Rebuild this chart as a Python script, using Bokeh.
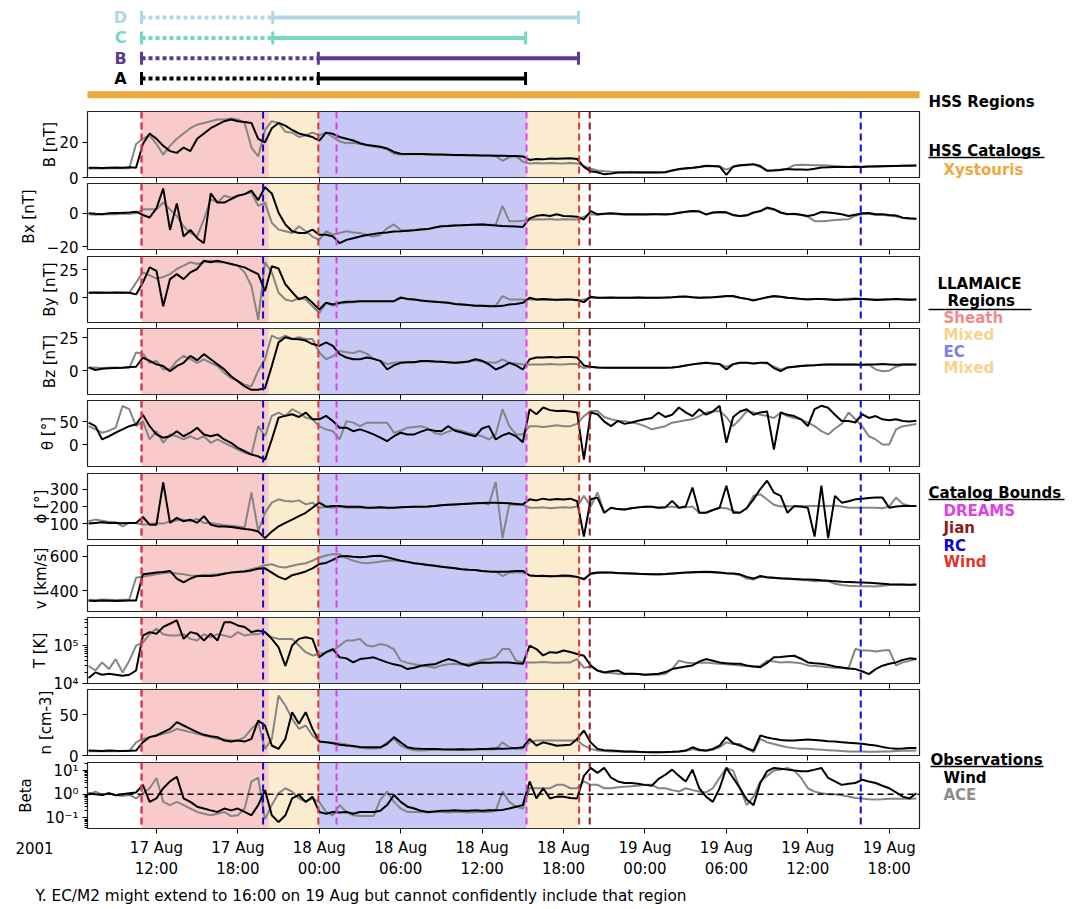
from datetime import datetime, timedelta
from bokeh.plotting import figure
from bokeh.layouts import column, row
from bokeh.models import Range1d, FixedTicker, Span, BoxAnnotation, ColumnDataSource, CustomJSTickFormatter
from bokeh.core.properties import value
from bokeh.embed import file_html
from bokeh.resources import INLINE

FONT = "DejaVu Sans"
EPOCH = datetime(1970, 1, 1)
DAY0 = datetime(2001, 8, 17)


def ms(h):
    return (DAY0 + timedelta(hours=h) - EPOCH).total_seconds() * 1000.0


# sample times: hours after 2001-08-17 00:00 (30 min cadence)
HOURS = [7.0 + 0.5 * i for i in range(123)]

B_WIND = [5.5, 5.6, 5.4, 5.6, 5.7, 5.5, 5.8, 5.6, 19, 25, 22, 18,
          15, 14, 17, 15, 22, 25, 28, 30, 32, 33, 32, 31.5,
          31, 22, 20, 28, 31, 29.5, 27, 25, 24, 23, 21, 25.5,
          24.8, 23, 22, 21, 19.5, 18.5, 18, 17.5, 16.5, 14.5, 13.5, 13.3,
          13.3, 13.4, 13.2, 13, 13, 12.9, 12.8, 12.8, 12.7, 12.6, 12.5, 12.5,
          12.4, 12.3, 12.2, 12.2, 12.0, 10.0, 10.5, 10.3, 10.8, 10.6, 10.8, 11,
          10.5, 6, 3.5, 3.0, 1.8, 2.2, 2.8, 2.9, 2.9, 2.9, 2.9, 2.9,
          2.9, 3.0, 4, 4.8, 5.2, 5.5, 6, 6.7, 6.5, 6.3, 1.5, 6.2,
          7, 7.3, 7.6, 6.5, 3.8, 4, 4.3, 4.8, 4.6, 4.5, 4.4, 5,
          5.7, 5.8, 6, 5.9, 6, 6.1, 6, 6.2, 6.3, 6.4, 6.5, 6.6,
          6.7, 6.7, 6.8]
B_ACE = [5.0, 5.2, 5.1, 5.3, 5.2, 5.2, 5.3, 19, 22, 24, 19, 13,
         18, 22, 25, 28, 30, 31, 32, 33, 33, 33.5, 33, 31,
         17, 12, 27, 32, 31, 26, 25.5, 23, 24, 25.5, 24, 25.5,
         23, 20.5, 19.5, 19.8, 19, 18.5, 17.5, 17, 16, 13.5, 13, 13.2,
         13.2, 13.3, 13.1, 13, 12.9, 12.8, 12.7, 12.7, 12.6, 12.5, 12.3, 12.4,
         12.2, 9.5, 11.5, 12, 9, 8, 8.2, 8, 8.3, 8.1, 8, 8.2,
         8, 6.5, 5, 4, 3.5, 3.2, 3, 3, 3.2, 3, 3, 3,
         3, 3.1, 4, 4.6, 5, 5.4, 6, 6.5, 6.4, 6.3, 4.5, 6,
         6.8, 7, 7.3, 6, 4, 4.2, 4.5, 5, 7, 7.2, 7.1, 7,
         7, 6.8, 6.5, 6.3, 6, 6.2, 6.1, 6.3, 6.4, 6.5, 6.4, 6.6,
         6.7, 6.8, 6.8]

BX_WIND = [0, -0.3, -0.5, 0, 0.2, 0.3, 0.5, 1, -1, -2.5, 3, 15,
           -10, 6, -14, -10, -15, -18, 12, 6.5, 6.5, 8.6, 10.6, 11.6,
           13.7, 8, 15.7, 12, 0.4, -6.7, -10.8, -11.8, -11.8, -9.8, -12.9, -12.9,
           -13.9, -18, -16, -15, -14, -13, -12.5, -11.8, -11.5, -11, -10.8, -10.5,
           -10.2, -9.8, -9.5, -8.5, -7.8, -7.6, -7.3, -7.2, -7, -6.8, -6.7, -7,
           -7.3, -7.6, -7.8, -8.0, -8.2, -3, -1.5, -1, -1.6, -0.5, -1.6, -1.8,
           -2, -3.7, 1.4, -0.6, -0.2, 0, -0.3, -0.6, -0.5, -0.6, -0.7, -0.6,
           -0.6, -0.5, -0.4, 0.4, 1, 1.4, 1.2, -0.6, 0.5, 0.8, 0.6, -1,
           -1.6, -1.2, 0.5, 1.4, 3.5, 2.5, 0.5, -0.5, -0.2, -0.8, -1.6, -0.8,
           0.8, 0.5, 0, -0.6, -1.6, -0.8, 0, 0.2, -0.6, -0.5, -1, -1.3,
           -2.6, -3, -3.3]
BX_ACE = [-0.5, -0.8, -0.6, -0.4, -0.5, -0.3, -0.2, 0, 2.4, 2.4, 2.4, 6.5,
          2.4, -1.6, -7.8, -11.8, -14, -3.7, 8.6, 6.5, 10.6, 9.5, 10.6, 11.6,
          12.7, 4.5, 6.5, -5.7, -9.8, -10.8, -11.8, -7.8, -10.8, -14, -16, -10.8,
          -12.9, -11.8, -10.8, -11.5, -11.8, -13, -14, -13, -9, -6.7, -10, -10.5,
          -10, -9.6, -9.4, -8.5, -7.8, -7.5, -7.2, -7, -6.9, -6.7, -6.5, -6.8,
          -6.9, 4.5, -4.7, -4.7, -4.5, -3.7, -3.5, -3.7, -3.4, -3.8, -3.5, -3.7,
          -3.7, -2, -0.6, -0.8, -0.4, -0.3, -0.5, -0.8, -0.7, -0.8, -0.6, -0.6,
          -0.6, -0.8, -0.4, 0.2, 0.8, 1.2, 1, -0.8, 0.3, 0.6, 0.5, -1.2,
          -1.8, -1.3, 0.3, 1.2, 3, 2.2, 0.4, -0.4, -0.5, -1, -2, -4.7,
          -4.7, -4.5, -4, -3.7, -3.5, -1.5, -0.5, -0.3, -1, -0.8, -1.5, -1.8,
          -2.8, -3.2, -3.4]

BY_WIND = [4.5, 4.6, 4.4, 4.5, 4.6, 4.5, 4.4, 3, 13.5, 27, 24, -7.5,
           16.6, 21, 16.6, 22.6, 25.6, 33, 31.6, 33, 31.5, 30, 28.6, 27,
           24, 21, 6, 28, 26, 12, 5, -1.5, 1, -4.5, -10.5, -4.5,
           -6, -4.5, -3.6, -3.6, -3, -3.2, -3, -3, -3.2, -3, 0, -1,
           -1.5, -2.5, -3, -3.5, -4, -4.5, -5.5, -6, -6.5, -7, -7.2, -7.5,
           -7.5, -7.2, -6, -5.5, -4.5, 0, -1.5, -1.2, -1.5, -1.8, -1.5, -1.5,
           -2, -3.9, 1, 0, 0, 0.2, 0, 0, 0, 0.2, 0, 0,
           0, 0.2, 0.5, 1, 1.2, 0.5, 0, 0.3, 0.5, 1, 1.5, 1.5,
           0, -1, -2.4, -1, 0.5, 1.5, 1, 0, -0.5, -1, -1.5, -1.2,
           -1, -1.5, -2, -1.8, -1.5, -1, -1.2, -1.5, -2, -1.8, -1.5, -1.2,
           -1.5, -1.8, -1.5]
BY_ACE = [4.5, 4.4, 4.6, 4.5, 4.4, 4.6, 4.5, 13.5, 22.6, 20, 17, 18.5,
          21, 25.6, 28.6, 31.6, 30, 31.6, 33, 31.6, 31.6, 30, 28.6, 22.6,
          10.5, -19.6, 31.6, 22.6, 4.5, -1.5, -3, 0, -1.5, -7.5, -13.5, -4.5,
          -6.9, -5, -4.5, -4, -3, -3, -3.2, -3, -3.2, -3, 0.5, -1,
          -1.5, -2.5, -3, -3.5, -4, -4.5, -5.5, -6, -6.5, -7, -7, -7,
          -7, 1.5, -1.5, -1.5, -1.5, -1.5, -1.8, -1.6, -1.8, -2, -1.7, -1.8,
          -2.2, -1.5, 0, 0, 0, 0, 0, 0, 0, 0.2, 0, 0,
          0, 0.2, 0.4, 1, 1, 0.5, 0, 0.2, 0.4, 1, 1.2, 1.2,
          0, -1, -2, -0.8, 0.3, 1.2, 1, 0, -0.5, -1, -1.2, -1,
          -1, -1.2, -1.5, -1.2, -0.8, -0.5, -1, -1.2, -1.5, -1.2, -1, -1,
          -1.2, -1.5, -1.5]

BZ_WIND = [2.5, 0.5, 1.5, 1.8, 2, 2.2, 2.8, 3, 10, 7.4, 4.8, 3.5,
           -0.4, 3.5, 6, 11.3, 8, 12.6, 8.7, 4.8, 1, -4.3, -8, -12,
           -14.6, -14.6, -13.4, 3.5, 21.6, 25.5, 24.2, 24, 23, 20.3, 19, 21.6,
           19, 12.6, 10, 8.7, 8.7, 10, 9, 7.5, 0.9, 4, 6, 6.5,
           6.5, 7.4, 7.4, 7, 6.8, 6.5, 6, 6.5, 7, 8.7, 7.5, 4.8,
           0.9, 3, 6, 4, 0.9, 8.7, 10, 10, 10.5, 10, 10.5, 10.5,
           10, 4, 3, 2.5, 2.2, 2.2, 2.2, 2.2, 2.2, 2.2, 2.2, 2.2,
           2.2, 2.2, 2.5, 3, 4, 4.8, 5.5, 6, 5.5, 5, 0.9, 5,
           6, 6, 5.5, 6, 6, 2, -0.4, 2.5, 3, 3.5, 4, 4.2,
           4.5, 4.8, 4.8, 4.8, 4.8, 4.8, 4.6, 4.8, 4.8, 5, 4.8, 4.6,
           4.8, 4.8, 4.8]
BZ_ACE = [2.2, 2.5, 2.0, 2.2, 2.4, 2.2, 2.2, 13.9, 13, 6, 7.4, 1,
          1, 7.4, 11.3, 9, 6, 8.7, 6, 3.5, -1.7, -5.6, -8, -10.7,
          -12, 0, 8.7, 26.8, 24.2, 26.8, 24.2, 25.5, 24.2, 24.2, 13.9, 8.7,
          11, 15, 14, 13.5, 15, 13, 9, 7.5, 5, 6, 6.5, 6.5,
          6.5, 7, 7.2, 7, 6.8, 6.3, 6, 6.3, 7, 8, 7, 6.5,
          6, 8.7, 6, 5.5, 4.8, 4.8, 4.8, 4.8, 5, 4.8, 4.8, 5,
          5, 2, 3, 2.5, 2.2, 2.2, 2.2, 2.2, 2.2, 2.2, 2.2, 2.2,
          2.2, 2.2, 2.5, 3, 4, 4.8, 5.5, 6, 5.5, 5, 3, 5,
          6, 6, 5.5, 6, 5.5, 3, 1, 2.5, 3, 3.5, 4, 4.2,
          4.5, 4.8, 4.8, 4.5, 4.5, 4.5, 4.6, 4.5, 1, -0.4, 0, 3,
          4.5, 4.8, 4.8]

THETA_WIND = [47.7, 40, 11, 18, 25.7, 33, 40, 44, 65, 40, 22, 14.7,
              18, 29, 18, 25.7, 36.7, 22, 18, 22, 11, 3.7, -7.3, -14.7,
              -22, -25.7, -33, 11, 58.7, 62.4, 66, 60, 69.7, 55, 55, 62.4,
              51.4, 36.7, 36.7, 29, 33, 28, 22, 15, 7.3, 18, 25.7, 22,
              22, 28, 33, 30, 29, 40, 30, 26, 22, 18, 35, 40,
              11, 20, 25, 18, 5, 77, 66, 80.8, 75, 73, 73.4, 72,
              70, -33, 69.7, 66, 50, 40, 51.4, 45, 48, 52, 55, 58,
              69.7, 60, 65, 80.8, 70, 62, 77, 65, 72, 84.4, 3.7, 60,
              72, 77, 65, 70, 72, -11, 69.7, 65, 62, 55, 40, 77,
              84.4, 80, 65, 51.4, 51.4, 48, 66, 58, 62, 55, 53, 55,
              51.4, 50, 52]
THETA_ACE = [40, 33, 25.7, 30, 36.7, 84, 77, 40, 51, 11, 29, 3.7,
             22, 18, 11, 18, 11, 18, 3.7, 11, 3.7, -3.7, -11, -18,
             -22, 40, 18, 62.4, 69.7, 62, 77, 69.7, 58.7, 55, 40, 33,
             29, 11, 51, 47.7, 40, 47.7, 47.7, 47.7, 47.7, 25.7, 30, 36.7,
             38, 40, 35, 25, 22, 28, 33, 30, 25, 22, 18, 11,
             22, 77, 40, 22, 22, 40, 40, 38, 40, 42, 40, 40,
             45, 62, 73, 73, 60, 55, 52, 51, 48, 45, 40, 33,
             36.7, 40, 47.7, 50, 53, 55, 62, 69.7, 72, 73, 60, 40,
             55, 73, 70, 65, 62, 58, 69.7, 62, 58, 55, 47.7, 40,
             29, 22, 35, 45, 70, 55, 40, 18, 11, 0, 0, 33,
             40, 42, 45]

PHI_WIND = [102, 106, 110, 106, 106, 104, 106, 106, 140, 96, 96, 338,
            106, 135, 115, 125, 106, 145, 96, 86, 86, 83, 77, 71,
            67, 57, 19, 57, 86, 106, 125, 145, 164, 193, 222, 199,
            203, 203, 199, 199, 199, 193, 193, 195, 193, 193, 195, 197,
            199, 199, 200, 203, 207, 210, 212, 214, 216, 218, 220, 222,
            222, 220, 218, 215, 212, 241, 235, 245, 238, 243, 240, 245,
            230, 28, 241, 251, 164, 193, 185, 183, 190, 195, 199, 199,
            193, 195, 232, 193, 200, 309, 164, 164, 180, 193, 319, 164,
            164, 190, 241, 300, 348, 280, 261, 164, 203, 200, 193, 28,
            319, 19, 261, 222, 230, 241, 245, 248, 251, 251, 193, 200,
            203, 203, 203]
PHI_ACE = [115, 125, 118, 112, 110, 86, 106, 106, 96, 100, 104, 102,
           115, 120, 125, 115, 129, 106, 106, 100, 92, 90, 85, 80,
           280, 60, 164, 222, 241, 232, 228, 235, 212, 222, 193, 199,
           193, 199, 193, 193, 193, 193, 193, 195, 193, 193, 195, 197,
           199, 199, 200, 203, 207, 210, 212, 214, 216, 218, 220, 212,
           340, 20, 212, 210, 210, 193, 193, 195, 190, 193, 195, 193,
           200, 261, 200, 280, 164, 193, 185, 183, 190, 195, 199, 199,
           193, 195, 200, 193, 195, 200, 164, 164, 180, 193, 190, 175,
           164, 190, 261, 270, 240, 210, 200, 203, 200, 200, 203, 203,
           203, 203, 205, 200, 193, 193, 193, 193, 193, 190, 200, 251,
           215, 205, 203]

V_WIND = [340, 339, 341, 340, 338, 340, 341, 342, 495, 500, 505, 508,
          515, 470, 448, 470, 485, 487, 485, 490, 498, 505, 508, 512,
          518, 528, 530, 505, 480, 465, 490, 500, 512, 530, 555, 562,
          580, 600, 602, 598, 595, 598, 602, 604, 595, 585, 575, 568,
          560, 555, 550, 545, 540, 535, 530, 525, 522, 520, 515, 512,
          510, 510, 512, 515, 515, 488, 485, 487, 484, 485, 488, 486,
          480, 465, 500, 505, 505, 505, 503, 502, 500, 498, 497, 495,
          495, 497, 500, 503, 505, 507, 509, 510, 508, 506, 502, 500,
          495, 480, 470, 485, 478, 475, 472, 470, 468, 466, 465, 463,
          460, 458, 455, 452, 450, 448, 447, 445, 443, 440, 437, 436,
          435, 434, 435]
V_ACE = [346, 345, 347, 346, 345, 346, 347, 475, 482, 488, 495, 502,
         505, 500, 495, 488, 485, 490, 492, 495, 500, 505, 510, 515,
         525, 535, 548, 554, 540, 535, 545, 554, 560, 575, 594, 605,
         614, 612, 590, 575, 565, 560, 565, 570, 575, 578, 574, 568,
         560, 555, 550, 545, 540, 535, 530, 525, 522, 520, 515, 512,
         510, 485, 505, 506, 505, 490, 485, 484, 485, 484, 483, 482,
         478, 470, 495, 503, 505, 504, 502, 501, 500, 498, 496, 495,
         494, 496, 499, 502, 504, 506, 507, 508, 506, 503, 500, 498,
         490, 470, 465, 480, 476, 473, 470, 468, 466, 462, 460, 455,
         458, 455, 440, 432, 428, 426, 425, 425, 423, 428, 432, 434,
         434, 433, 434]

T_WIND = [1.4e4, 1.96e4, 1.7e4, 1.8e4, 1.7e4, 1.6e4, 1.7e4, 2.2e4, 1.84e5, 2.26e5, 2.04e5, 3.1e5,
          3.76e5, 4.6e5, 1.5e5, 2.26e5, 2.04e5, 1.36e5, 2.04e5, 1.36e5, 4.1e5, 4.1e5, 3.4e5, 3.1e5,
          2.26e5, 2.5e5, 2.26e5, 1.5e5, 9e4, 2.9e4, 1e5, 1.5e5, 1.66e5, 1.5e5, 4.9e4, 6.7e4,
          8.1e4, 4.9e4, 4.6e4, 3.6e4, 4.4e4, 4.6e4, 4.9e4, 4.2e4, 3.6e4, 3.2e4, 2.95e4, 2.4e4,
          2.6e4, 2.95e4, 3.1e4, 3.2e4, 3.8e4, 4.4e4, 4e4, 3.3e4, 2.95e4, 3.3e4, 3.6e4, 3.5e4,
          3.6e4, 3.6e4, 3.6e4, 3.4e4, 3.3e4, 1e5, 8.1e4, 5.5e4, 6.7e4, 6.5e4, 7.4e4, 6.8e4,
          6e4, 5.4e4, 3e4, 2.2e4, 1.96e4, 2.1e4, 2.2e4, 1.8e4, 1.8e4, 1.77e4, 1.7e4, 1.75e4,
          1.8e4, 2.0e4, 2.4e4, 2.6e4, 2.8e4, 3e4, 3.8e4, 4.4e4, 4e4, 3.6e4, 3.4e4, 3.3e4,
          3.3e4, 3e4, 2.8e4, 2.7e4, 3.5e4, 4.9e4, 5e4, 5.2e4, 5.4e4, 4.5e4, 3.6e4, 3.4e4,
          3.3e4, 3.1e4, 2.8e4, 2.66e4, 2.5e4, 2.4e4, 2.1e4, 1.77e4, 2.4e4, 2.95e4, 3.3e4, 3.6e4,
          4.2e4, 4.6e4, 4.4e4]
T_ACE = [2.9e4, 2.2e4, 3.6e4, 2.4e4, 4.4e4, 1.96e4, 4e4, 1e5, 1.2e5, 2e5, 2.8e5, 2e5,
         1.84e5, 1.84e5, 2e5, 1.5e5, 1.36e5, 2e5, 1.66e5, 2e5, 1.84e5, 1.66e5, 2.26e5, 1.84e5,
         2e5, 2e5, 2.26e5, 1.66e5, 1.5e5, 1.5e5, 1.5e5, 1e5, 6.7e4, 5.5e4, 6e4, 6.7e4,
         7.4e4, 1e5, 1.36e5, 1.36e5, 1.5e5, 1e5, 9.5e4, 1.1e5, 1e5, 8e4, 4e4, 3.5e4,
         3.2e4, 3e4, 2.8e4, 2.6e4, 3e4, 3.2e4, 3.3e4, 3.1e4, 3.3e4, 3.6e4, 4.2e4, 4.4e4,
         5e4, 8.1e4, 8.1e4, 4e4, 3.6e4, 3.6e4, 3.6e4, 3.7e4, 3.6e4, 3.5e4, 3.6e4, 3.6e4,
         4.4e4, 2.6e4, 2.8e4, 2.2e4, 1.96e4, 1.9e4, 1.8e4, 1.75e4, 1.8e4, 1.77e4, 1.7e4, 1.7e4,
         1.7e4, 1.8e4, 2.4e4, 4e4, 3.6e4, 3.4e4, 3.5e4, 3.6e4, 3.4e4, 3.3e4, 3.2e4, 3.1e4,
         3.0e4, 2.9e4, 2.8e4, 2.9e4, 4e4, 3.8e4, 3.6e4, 3.7e4, 3.6e4, 3.4e4, 3e4, 2.9e4,
         2.8e4, 2.7e4, 2.6e4, 2.6e4, 2.5e4, 8.1e4, 7.4e4, 7.4e4, 7e4, 7.4e4, 7.6e4, 3.0e4,
         3.6e4, 4e4, 4.4e4]

N_WIND = [6, 5.8, 5.5, 6, 5.7, 5.5, 5.8, 6, 16.3, 22.4, 24.4, 28.5,
          32.5, 40.6, 36.6, 32.5, 28.5, 25.2, 23.6, 22.4, 18.3, 17, 18.3, 17,
          20.3, 42.7, 36.6, 12.2, 8.1, 20.3, 52.8, 38.6, 52.8, 32.5, 17, 16.3,
          15, 13, 12.2, 11.5, 10.5, 10, 10, 10, 14, 22.4, 16, 10,
          8.5, 8.1, 8, 7.8, 7.5, 7.4, 7.2, 7.5, 7.3, 7.5, 8, 8.1,
          8.5, 8.1, 8.5, 9, 10, 20.3, 12, 16, 14, 12, 12.5, 13,
          20, 30.5, 16, 8.1, 6.5, 6, 5.5, 5, 5, 4.5, 4.2, 4,
          4, 4.2, 4.5, 5, 6, 10, 7, 6, 8, 12, 22.4, 15,
          12.2, 9, 6, 24.4, 22, 20.3, 19, 18.3, 18.3, 19, 19.5, 19,
          18.3, 17.5, 17, 16.3, 15.5, 15, 14.2, 13, 12.2, 10.5, 9, 8.1,
          8.5, 9, 9]
N_ACE = [5.3, 5.5, 5.2, 5.4, 5.3, 5.5, 5.4, 16, 20.3, 22.4, 24.4, 26.4,
         28.5, 32.5, 30.5, 28.5, 26.4, 24.4, 22.4, 20.3, 19.5, 18.3, 18.3, 22.4,
         32.5, 40.6, 8, 20.3, 73, 61, 44.7, 32.5, 36.6, 24.4, 17, 16.3,
         15.5, 14.6, 13.4, 11, 9.3, 8.5, 8.5, 9, 16, 20.3, 12, 8.5,
         6.5, 6.1, 6.5, 7, 7.2, 7.4, 7.3, 7.4, 7.3, 7.5, 7.5, 7.3,
         7.5, 16, 10, 8.1, 8.1, 16, 18.3, 18.3, 18.3, 18.3, 18.3, 18.3,
         18.3, 12, 8.1, 6, 5.5, 5, 5, 4.5, 4.5, 4.2, 4, 4,
         4, 4, 4.3, 4.8, 5.5, 8, 6, 5.5, 7, 10, 16, 14,
         14, 8, 4, 20.3, 16, 14, 12, 10, 9, 8.1, 8.1, 7.5,
         7, 6.5, 6, 5.5, 5, 5, 4.8, 4.5, 4.5, 4.8, 5, 5.5,
         5.7, 5.8, 6]

BETA_WIND = [1.1, 1.0, 0.94, 1.1, 0.9, 1.0, 1.1, 1.2, 2.5, 0.48, 0.67, 1.8,
             3.5, 5.5, 0.67, 0.48, 0.3, 0.25, 0.21, 0.18, 0.25, 0.21, 0.25, 0.18,
             0.13, 0.35, 1.5, 0.13, 0.067, 0.13, 0.67, 0.94, 0.48, 0.79, 0.18, 0.15,
             0.18, 0.17, 0.18, 0.15, 0.18, 0.18, 0.18, 0.2, 0.35, 0.94, 0.48, 0.3,
             0.25, 0.2, 0.18, 0.19, 0.2, 0.2, 0.21, 0.2, 0.2, 0.21, 0.2, 0.21,
             0.21, 0.22, 0.25, 0.3, 0.35, 3.5, 0.67, 1.8, 0.67, 0.8, 0.79, 0.7,
             0.67, 6, 13, 8, 13, 5, 3.5, 3, 3, 2.8, 2.5, 2.3,
             4.5, 6.7, 11, 6, 3.5, 11, 1.8, 0.8, 0.48, 1.8, 13, 4.9,
             1.8, 0.6, 0.35, 3, 9.4, 13, 12, 11, 10, 9.5, 9.4, 11,
             13, 4.9, 3.5, 2.5, 2.8, 3, 4.1, 3.5, 3, 2.3, 1.8, 1.2,
             0.8, 0.67, 1.1]
BETA_ACE = [0.94, 1.3, 0.94, 1.1, 0.94, 0.85, 0.94, 0.67, 1.1, 1.8, 4.9, 0.48,
            0.35, 0.48, 0.35, 0.25, 0.18, 0.15, 0.13, 0.15, 0.18, 0.12, 0.13, 0.25,
            3.5, 5.0, 0.09, 0.35, 1.1, 1.8, 1.3, 0.67, 0.48, 0.67, 0.48, 0.18,
            0.13, 0.35, 0.18, 0.13, 0.12, 0.12, 0.12, 0.6, 1.3, 0.48, 0.25, 0.18,
            0.18, 0.18, 0.17, 0.18, 0.18, 0.17, 0.18, 0.18, 0.17, 0.18, 0.18, 0.18,
            0.2, 1.3, 0.48, 0.3, 0.25, 1.8, 1.8, 1.8, 1.8, 2.5, 2.5, 1.8,
            1.8, 3.5, 2.5, 2.5, 1.8, 1.8, 2, 2.1, 2.2, 2.3, 2.5, 2.5,
            1.8, 1.8, 1.5, 1.3, 1.8, 1.5, 1.3, 1.2, 1.8, 5, 13, 10,
            1.8, 0.35, 0.8, 3.5, 6, 10, 11, 13, 10, 5, 1.8, 1.3,
            1.1, 1.0, 1.0, 0.9, 0.8, 0.7, 0.67, 0.62, 0.6, 0.62, 0.65, 0.65,
            0.65, 0.65, 0.66]

# event times (hours after 2001-08-17 00:00)
REGION_NAMES = ["Sheath", "Mixed", "EC", "Mixed"]
REGION_START = [10.9, 20.27, 23.93, 39.27]
REGION_END = [20.27, 23.93, 39.27, 43.15]
REGION_COLORS = ["#F08080", "#F6D594", "#7F7FEA", "#F6D594"]
REGION_ALPHA = [0.42, 0.45, 0.43, 0.45]

BOUND_NAMES = ["DREAMS", "Wind", "Jian", "RC"]
BOUND_COLORS = ["#E040E8", "#E0362C", "#8B1A1A", "#0A0ACC"]
BOUND_TIMES = [[10.9, 25.27, 39.27], [10.9, 23.93, 43.15], [43.93], [19.86, 63.9]]

CATALOGS = ["A", "B", "C", "D"]
CAT_COLORS = ["#000000", "#5B3A94", "#76D7C4", "#ADD8E6"]
CAT_START = [10.9, 10.9, 10.9, 10.9]
CAT_SWITCH = [23.93, 23.93, 20.57, 20.57]
CAT_END = [39.2, 43.1, 39.2, 43.1]
HSS_START, HSS_END = 0.0, 72.0
HSS_COLOR = "#EEA83B"

XTICK_HOURS = [12, 18, 24, 30, 36, 42, 48, 54, 60, 66]
XTICK_LABELS = ["17 Aug\n12:00", "17 Aug\n18:00", "18 Aug\n00:00", "18 Aug\n06:00",
                "18 Aug\n12:00", "18 Aug\n18:00", "19 Aug\n00:00", "19 Aug\n06:00",
                "19 Aug\n12:00", "19 Aug\n18:00"]
YEAR_LABEL = "2001"
FOOTNOTE = "Y. EC/M2 might extend to 16:00 on 19 Aug but cannot confidently include that region"

PANELS = [
    dict(label="B [nT]", wind=B_WIND, ace=B_ACE, rng=(0, 37.5), ticks=[0, 20], labels=["0", "20"], pad=-3),
    dict(label="Bx [nT]", wind=BX_WIND, ace=BX_ACE, rng=(-21.8, 18), ticks=[-20, 0], labels=["\u221220", "0"], pad=6),
    dict(label="By [nT]", wind=BY_WIND, ace=BY_ACE, rng=(-22, 36.7), ticks=[0, 25], labels=["0", "25"], pad=-3),
    dict(label="Bz [nT]", wind=BZ_WIND, ace=BZ_ACE, rng=(-18.2, 32.2), ticks=[0, 25], labels=["0", "25"], pad=-3),
    dict(label="\u03b8 [\u00b0]", wind=THETA_WIND, ace=THETA_ACE, rng=(-48, 96), ticks=[0, 50], labels=["0", "50"], pad=-1),
    dict(label="\u03d5 [\u00b0]", wind=PHI_WIND, ace=PHI_ACE, rng=(11, 389), ticks=[100, 200, 300], labels=["100", "200", "300"], pad=-3),
    dict(label="v [km/s]", wind=V_WIND, ace=V_ACE, rng=(277, 664), ticks=[400, 600], labels=["400", "600"], pad=-3),
    dict(label="T [K]", wind=T_WIND, ace=T_ACE, rng=(1.0e4, 5.5e5), ticks=[1e4, 1e5], labels=["10\u2074", "10\u2075"], log=True,
         minor=[2e4, 3e4, 4e4, 5e4, 6e4, 7e4, 8e4, 9e4, 2e5, 3e5, 4e5, 5e5], pad=1),
    dict(label="n [cm-3]", wind=N_WIND, ace=N_ACE, rng=(0, 80.5), ticks=[0, 50], labels=["0", "50"], pad=1),
    dict(label="Beta", wind=BETA_WIND, ace=BETA_ACE, rng=(0.036, 22), ticks=[0.1, 1, 10], labels=["10\u207b\u00b9", "10\u2070", "10\u00b9"], log=True,
         minor=[0.04, 0.05, 0.06, 0.07, 0.08, 0.09, 0.2, 0.3, 0.4, 0.5, 0.6, 0.7, 0.8, 0.9, 2, 3, 4, 5, 6, 7, 8, 9, 20], pad=7),
]

for pnl in PANELS:
    assert len(pnl["wind"]) == len(HOURS), (pnl["label"], len(pnl["wind"]))
    assert len(pnl["ace"]) == len(HOURS), (pnl["label"], len(pnl["ace"]))

X = [ms(h) for h in HOURS]
XR = Range1d(ms(6.92), ms(68.23))
XT = [ms(h) for h in XTICK_HOURS]

# ---------------- layout geometry (page pixels) ----------------
W = 923            # left column width
LEFT = 87          # frame left edge
RIGHT = 4
TOP_H = 109        # catalog strip height
FRAME_H = 66
FRAME_TOP = [111, 183, 256, 328, 400, 473, 545, 617, 689, 762]
TB, BB = 10, 12    # borders (overlapping neighbours so tick labels are not cut)
PAGE_H = 905
PAGE_W = 1068

LABEL_JS = """
for (let i = 0; i < tvals.length; i++) {
  const t = tvals[i];
  if (Math.abs(t - tick) <= 1e-9 * Math.max(1, Math.abs(t))) { return tlabs[i]; }
}
return "";
"""


def clear(p):
    p.grid.visible = False
    p.border_fill_color = None
    p.background_fill_color = None


# ---------------- top catalog figure ----------------
top = figure(width=W, height=TOP_H, x_range=XR, y_range=Range1d(-1.527, 3.842),
             toolbar_location=None, output_backend="svg",
             x_axis_location=None, y_axis_location=None,
             min_border_left=LEFT, min_border_right=RIGHT, min_border_top=0, min_border_bottom=0)
clear(top)
top.outline_line_color = None
top.segment(x0=[ms(HSS_START)], x1=[ms(HSS_END)], y0=[-0.8], y1=[-0.8], line_width=7, line_color=HSS_COLOR)
idx = list(range(len(CATALOGS)))
cat_src = ColumnDataSource(dict(
    x0=[ms(h) for h in CAT_START], xs=[ms(h) for h in CAT_SWITCH], x1=[ms(h) for h in CAT_END],
    y=idx, ylo=[i - 0.32 for i in idx], yhi=[i + 0.32 for i in idx], name=CATALOGS, color=CAT_COLORS))
top.segment(x0="x0", x1="xs", y0="y", y1="y", source=cat_src, line_color="color", line_width=4, line_dash="4 3")
top.segment(x0="xs", x1="x1", y0="y", y1="y", source=cat_src, line_color="color", line_width=4)
for col in ["x0", "xs", "x1"]:
    top.segment(x0=col, x1=col, y0="ylo", y1="yhi", source=cat_src, line_color="color", line_width=3)
top.text(x="x0", y="y", text="name", source=cat_src, x_offset=-21, text_align="center", text_baseline="middle",
         text_color="color", text_font=value(FONT), text_font_style="bold", text_font_size="16px")

# ---------------- data panels ----------------
figs = [top]
prev_bottom = TOP_H
n = len(PANELS)
for i, pnl in enumerate(PANELS):
    last = i == n - 1
    log = pnl.get("log", False)
    ftop = FRAME_TOP[i]
    canvas_top = ftop - TB
    bb = (PAGE_H - ftop - FRAME_H) if last else BB
    height = TB + FRAME_H + bb
    p = figure(width=W, height=height, x_range=XR, y_range=Range1d(*pnl["rng"]),
               y_axis_type="log" if log else "linear",
               toolbar_location=None, output_backend="svg",
               min_border_left=LEFT, min_border_right=RIGHT, min_border_top=TB,
               min_border_bottom=bb, margin=(canvas_top - prev_bottom, 0, 0, 0))
    prev_bottom = canvas_top + height
    clear(p)
    p.outline_line_color = "#222222"
    p.outline_line_width = 1.2
    for name, a, b, c, al in zip(REGION_NAMES, REGION_START, REGION_END, REGION_COLORS, REGION_ALPHA):
        p.add_layout(BoxAnnotation(left=ms(a), right=ms(b), fill_color=c, fill_alpha=al,
                                   line_color=None, level="underlay"))
    p.line(X, pnl["ace"], line_color="#858585", line_width=2)
    p.line(X, pnl["wind"], line_color="black", line_width=2)
    if pnl["label"] == "Beta":
        p.add_layout(Span(location=1, dimension="width", line_color="black", line_dash="6 4", line_width=1.5))
    for name, c, times in zip(BOUND_NAMES, BOUND_COLORS, BOUND_TIMES):
        for t in times:
            p.add_layout(Span(location=ms(t), dimension="height", line_color=c, line_dash="7 4", line_width=2))

    ya = p.yaxis[0]
    ya.ticker = FixedTicker(ticks=pnl["ticks"], minor_ticks=pnl.get("minor", []))
    ya.formatter = CustomJSTickFormatter(args=dict(tvals=[float(t) for t in pnl["ticks"]], tlabs=pnl["labels"]),
                                         code=LABEL_JS)
    ya.axis_label = pnl["label"]
    ya.axis_label_text_font = FONT
    ya.axis_label_text_font_size = "15px"
    ya.axis_label_text_font_style = "normal"
    ya.axis_label_text_color = "black"
    ya.axis_label_standoff = pnl["pad"]
    ya.major_label_text_font = FONT
    ya.major_label_text_font_size = "15px"
    ya.major_label_text_color = "black"
    ya.major_label_standoff = 4
    ya.axis_line_color = None
    ya.major_tick_out = 5
    ya.major_tick_in = 0
    ya.minor_tick_out = 3
    ya.minor_tick_in = 0
    ya.major_tick_line_color = "black"
    ya.minor_tick_line_color = "black"

    xa = p.xaxis[0]
    xa.ticker = FixedTicker(ticks=XT, minor_ticks=[])
    xa.axis_line_color = None
    xa.major_tick_in = 0
    xa.major_tick_out = 5
    xa.major_tick_line_color = "black"
    if last:
        xa.major_label_overrides = {t: lab for t, lab in zip(XT, XTICK_LABELS)}
        xa.major_label_text_font = FONT
        xa.major_label_text_font_size = "15px"
        xa.major_label_text_color = "black"
        xa.major_label_standoff = 5
    else:
        xa.major_label_text_color = None
        xa.major_label_text_font_size = "0px"
        xa.major_label_standoff = 0
    figs.append(p)

left_col = column(*figs, spacing=0)

# ---------------- free text overlay (legend, year, footnote) in page pixels ----------------
ov = figure(width=PAGE_W, height=PAGE_H, x_range=Range1d(0, PAGE_W), y_range=Range1d(PAGE_H, 0),
            toolbar_location=None, output_backend="svg", x_axis_location=None, y_axis_location=None,
            min_border=0, margin=(0, 0, 0, -W))
clear(ov)
ov.outline_line_color = None
LEG_TEXT = ["HSS Regions", "HSS Catalogs", "Xystouris", "LLAMAICE", "Regions",
            "Sheath", "Mixed", "EC", "Mixed",
            "Catalog Bounds", "DREAMS", "Jian", "RC", "Wind",
            "Observations", "Wind", "ACE"]
LEG_COLOR = ["black", "black", HSS_COLOR, "black", "black",
             "#F08A8A", "#F5D48F", "#7F7FEA", "#F5D48F",
             "black", "#E040E8", "#8B1A1A", "#0A0ACC", "#E0362C",
             "black", "black", "#8C8C8C"]
LEG_X = [928, 928, 943, 937, 947, 943, 943, 943, 943, 928, 943, 943, 943, 943, 930, 943, 943]
LEG_Y = [101, 150, 169, 283, 300, 317, 334, 351, 367, 492, 510, 527, 545, 561, 759, 777, 794]
ov.text(x="x", y="y", text="t", source=ColumnDataSource(dict(x=LEG_X, y=LEG_Y, t=LEG_TEXT, c=LEG_COLOR)),
        text_color="c", text_font=value(FONT), text_font_style="bold", text_font_size="15px",
        text_baseline="middle", text_align="left")
UL_X0 = [928, 928, 928, 930]
UL_X1 = [1044, 1031, 1064, 1043]
UL_Y = [157, 309, 499, 766]
ov.segment(x0=UL_X0, x1=UL_X1, y0=UL_Y, y1=UL_Y, line_color="black", line_width=1.6)
ov.text(x=[34], y=[847], text=[YEAR_LABEL], text_align="center", text_baseline="middle",
        text_font=value(FONT), text_font_size="15px", text_color="black")
ov.text(x=[35], y=[895], text=[FOOTNOTE], text_align="left", text_baseline="middle",
        text_font=value(FONT), text_font_size="15.3px", text_color="black")

layout = row(left_col, ov, spacing=0)

with open("out.html", "w") as f:
    f.write(file_html(layout, INLINE, title="HSS overview"))
